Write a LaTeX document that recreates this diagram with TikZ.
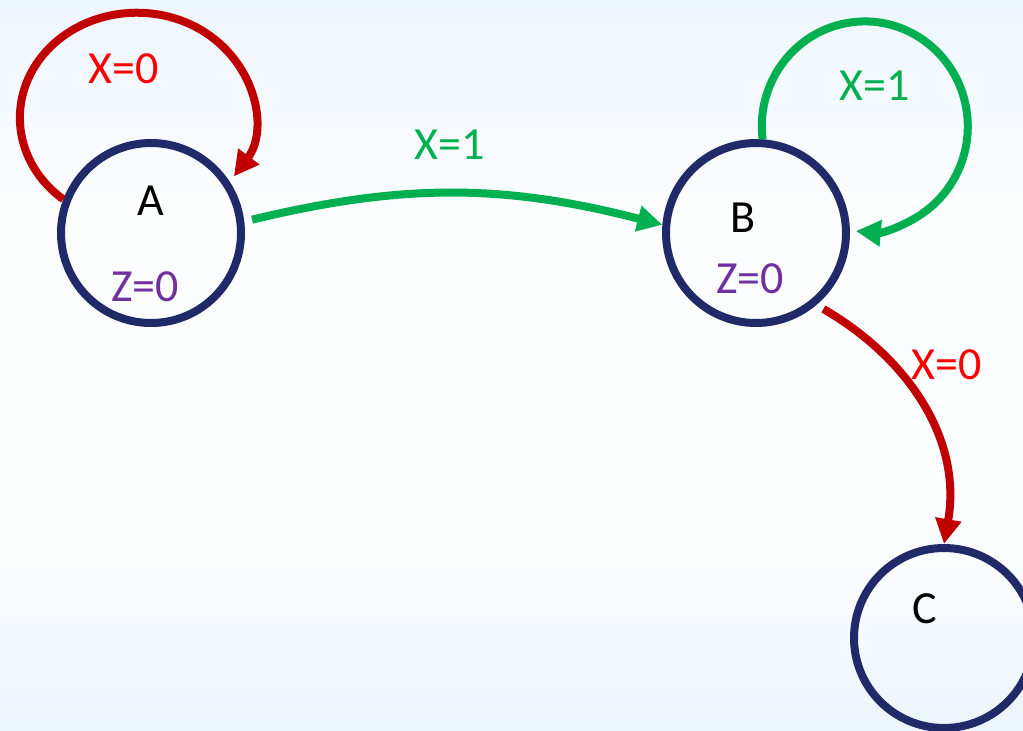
\documentclass[tikz,border=0pt]{standalone}
\usepackage{fontspec}
\setmainfont{Carlito}
\usetikzlibrary{arrows.meta}
\definecolor{navy}{RGB}{32,42,104}
\definecolor{darkred}{RGB}{192,0,0}
\definecolor{brightred}{RGB}{255,0,0}
\definecolor{grn}{RGB}{0,176,80}
\definecolor{purp}{RGB}{112,48,160}
\definecolor{bgtop}{RGB}{238,246,253}
\definecolor{bgmid}{RGB}{251,253,255}
\definecolor{bgbot}{RGB}{236,245,252}
\begin{document}
\begin{tikzpicture}[x=1pt,y=1pt,
  state/.style={circle, draw=navy, line width=8pt, minimum size=180pt, inner sep=0pt},
  lbl/.style={inner sep=0pt, font=\fontsize{46}{50}\selectfont},
  arr/.style={line width=8pt, -{Triangle[length=25pt,width=25pt]}},
]
\useasboundingbox (0,0) rectangle (1023,-731);
\clip (0,0) rectangle (1023,-731);
\fill[bgmid] (0,0) rectangle (1023,-731);
\shade[top color=bgtop, bottom color=bgmid] (0,0) rectangle (1023,-200);
\shade[top color=bgmid, bottom color=bgbot] (0,-560) rectangle (1023,-731);

\node[state] (A) at (151,-233) {};
\node[state] (B) at (756,-233) {};
\node[state] (C) at (944,-638) {};

\node[lbl] (tA) at (151,-201) {A};
\node[lbl, text=purp] (zA) at (145,-287) {Z=0};
\node[lbl] (tB) at (743,-218) {B};
\node[lbl, text=purp] (zB) at (750,-279) {Z=0};
\node[lbl] (tC) at (925,-609) {C};
\node[lbl, text=brightred] (xA) at (124,-69) {X=0};
\node[lbl, text=grn] (xAB) at (450,-145) {X=1};
\node[lbl, text=grn] (xB) at (875,-86) {X=1};
\node[lbl, text=brightred] (xBC) at (947,-365) {X=0};

\draw[arr, darkred] (A.159) arc[start angle=231, end angle=-34, x radius=117, y radius=105];
\draw[arr, grn] (B.86) arc[start angle=187, end angle=-95, x radius=103, y radius=105];
\draw[arr, grn, shorten <=8pt] (A.7) to[bend left=14] (B.175);
\draw[arr, darkred, shorten <=8pt] (B.-50) to[out=-30, in=80] (C.90);
\end{tikzpicture}
\end{document}
